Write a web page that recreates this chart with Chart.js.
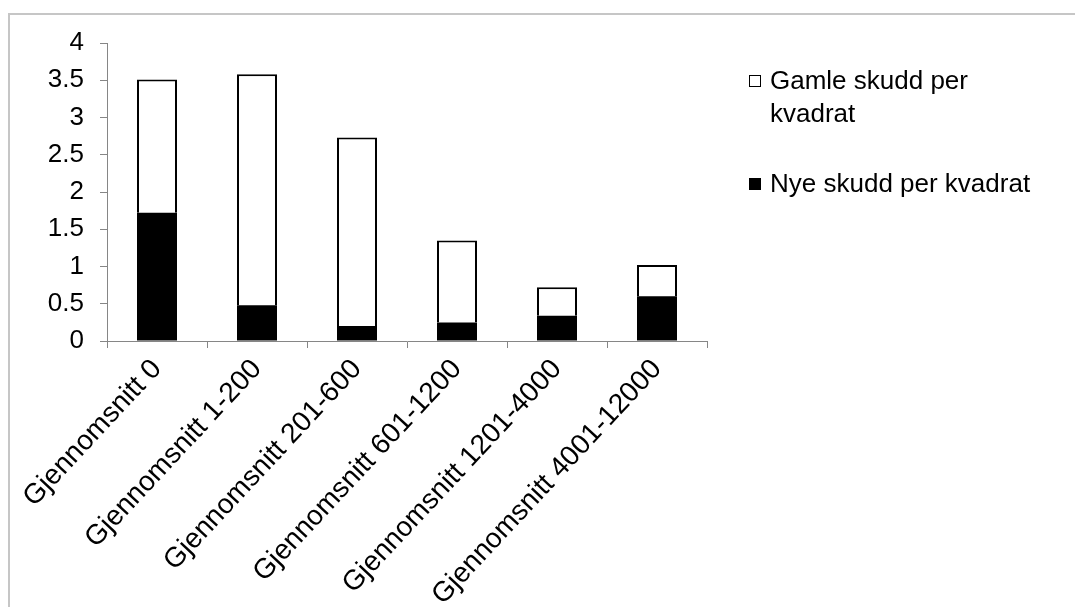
<!DOCTYPE html>
<html>
<head>
<meta charset="utf-8">
<script src="https://cdn.jsdelivr.net/npm/chart.js@4/dist/chart.umd.min.js"></script>
<style>
  html, body { margin: 0; padding: 0; background: #fff; }
  #wrap { position: relative; width: 1075px; height: 607px; overflow: hidden; }
  #frame { position: absolute; left: 8px; top: 13px; width: 1200px; height: 700px;
           border-left: 2px solid #c6c6c6; border-top: 2px solid #c6c6c6; box-sizing: border-box; }
  #chart { position: absolute; left: 0; top: 0; }
  #legend { position: absolute; left: 749px; top: 64px; font-family: "Liberation Sans", Arial, sans-serif;
            font-size: 26px; color: #000; }
  .item { position: relative; padding-left: 21px; width: 285px; line-height: 33px; margin-bottom: 37px; }
  .box { position: absolute; left: 0; top: 11px; width: 12px; height: 12px; box-sizing: border-box; border: 1px solid #000; }
</style>
</head>
<body>
<div id="wrap">
  <div id="frame"></div>
  <canvas id="chart" width="1075" height="607"></canvas>
  <div id="legend"></div>
</div>
<script>
// Categories (average counts per plot) and stacked series
const categories = [
  'Gjennomsnitt 0',
  'Gjennomsnitt 1-200',
  'Gjennomsnitt 201-600',
  'Gjennomsnitt 601-1200',
  'Gjennomsnitt 1201-4000',
  'Gjennomsnitt 4001-12000'
];
const nyeSkudd   = [1.72, 0.48, 0.20, 0.25, 0.34, 0.60];
const gamleSkudd = [1.79, 3.10, 2.53, 1.10, 0.38, 0.42];
const yTicks = [0, 0.5, 1, 1.5, 2, 2.5, 3, 3.5, 4];

const seriesNames = ['Nye skudd per kvadrat', 'Gamle skudd per kvadrat'];

const FONT = '"Liberation Sans", Arial, sans-serif';
const AXIS = '#868686';

const chart = new Chart(document.getElementById('chart'), {
  type: 'bar',
  data: {
    labels: categories,
    datasets: [
      { label: seriesNames[0], data: nyeSkudd, backgroundColor: '#000', borderColor: '#000',
        borderWidth: 0, barPercentage: 0.4, categoryPercentage: 1 },
      { label: seriesNames[1], data: gamleSkudd, backgroundColor: '#fff', borderColor: '#000',
        borderWidth: 2, borderSkipped: 'bottom', barPercentage: 0.4, categoryPercentage: 1 }
    ]
  },
  options: {
    responsive: false,
    animation: false,
    layout: { padding: { left: 0, right: 368, top: 43, bottom: 0 } },
    plugins: { legend: { display: false }, tooltip: { enabled: false } },
    scales: {
      x: {
        stacked: true,
        grid: { display: true, drawOnChartArea: false, drawTicks: true, tickLength: 7, color: AXIS, offset: true },
        border: { display: true, color: AXIS, width: 1 },
        ticks: { color: '#000', font: { family: FONT, size: 28 }, minRotation: 47, maxRotation: 47, padding: 5, autoSkip: false },
        afterFit: s => { s.height = 607 - 341; }
      },
      y: {
        stacked: true,
        min: 0, max: 4,
        afterBuildTicks: s => { s.ticks = yTicks.map(v => ({ value: v })); },
        grid: { display: true, drawOnChartArea: false, drawTicks: true, tickLength: 7, color: AXIS },
        border: { display: true, color: AXIS, width: 1 },
        ticks: { color: '#000', font: { family: FONT, size: 26 }, padding: 16, callback: v => String(v) },
        afterFit: s => { s.width = 107; }
      }
    }
  }
});

// Legend, listed top to bottom as the stack is drawn
const legend = document.getElementById('legend');
[1, 0].forEach(i => {
  const ds = chart.data.datasets[i];
  const item = document.createElement('div');
  item.className = 'item';
  const box = document.createElement('span');
  box.className = 'box';
  box.style.background = ds.backgroundColor;
  item.appendChild(box);
  item.appendChild(document.createTextNode(ds.label));
  legend.appendChild(item);
});
</script>
</body>
</html>
